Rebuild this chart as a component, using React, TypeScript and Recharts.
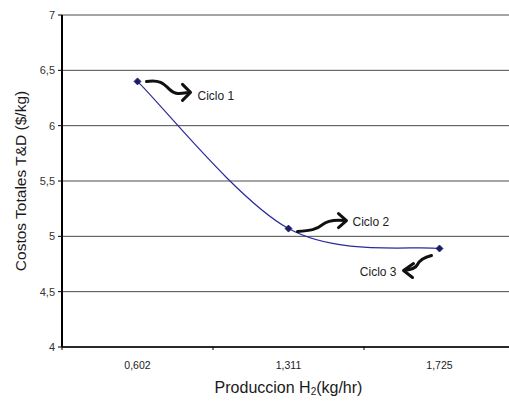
import React from "react";
import { LineChart, Line, XAxis, YAxis, CartesianGrid, LabelList, Label } from "recharts";

const produccion = ["0,602", "1,311", "1,725"];
const costos = [6.4, 5.07, 4.89];
const ciclos = ["Ciclo 1", "Ciclo 2", "Ciclo 3"];
const yTicks = [4, 4.5, 5, 5.5, 6, 6.5, 7];

const data = produccion.map((p, i) => ({ produccion: p, costo: costos[i], ciclo: ciclos[i] }));

const FONT = "'Liberation Sans', Arial, sans-serif";

// spreadsheet-style smoothed line (bezier, tangents = (next - prev) / 6)
function smoothCurve(context: any) {
  let pts: [number, number][] = [];
  return {
    areaStart() {},
    areaEnd() {},
    lineStart() {
      pts = [];
    },
    point(x: number, y: number) {
      pts.push([+x, +y]);
    },
    lineEnd() {
      if (!pts.length) return;
      context.moveTo(pts[0][0], pts[0][1]);
      for (let i = 0; i < pts.length - 1; i++) {
        const p0 = pts[Math.max(i - 1, 0)];
        const p1 = pts[i];
        const p2 = pts[i + 1];
        const p3 = pts[Math.min(i + 2, pts.length - 1)];
        context.bezierCurveTo(
          p1[0] + (p2[0] - p0[0]) / 6,
          p1[1] + (p2[1] - p0[1]) / 6,
          p2[0] - (p3[0] - p1[0]) / 6,
          p2[1] - (p3[1] - p1[1]) / 6,
          p2[0],
          p2[1]
        );
      }
    },
  };
}

const Diamond = (props: any) => {
  const { cx, cy } = props;
  if (cx == null || cy == null) return null;
  const s = 3.5;
  return (
    <polygon
      points={`${cx},${cy - s} ${cx + s},${cy} ${cx},${cy + s} ${cx - s},${cy}`}
      fill="#1c1c66"
      stroke="#1c1c66"
      strokeWidth={0.8}
    />
  );
};

// curved arrow + text, relative to each point
const Callout = (props: any) => {
  const { x, y, index } = props;
  if (x == null || y == null) return null;
  const arrow = { stroke: "#111", strokeWidth: 3, fill: "none", strokeLinecap: "round" as const, strokeLinejoin: "round" as const };
  const txt = { fontFamily: FONT, fontSize: 12, fill: "#222" };
  if (index === 0) {
    return (
      <g>
        <path d={`M${x + 9},${y} C${x + 22},${y - 2} ${x + 26},${y + 2} ${x + 32},${y + 8} S${x + 44},${y + 12} ${x + 52},${y + 11}`} {...arrow} />
        <path d={`M${x + 45},${y + 3} L${x + 53},${y + 11} L${x + 45},${y + 19}`} {...arrow} />
        <text x={x + 60} y={y + 15} dominantBaseline="central" {...txt}>{ciclos[0]}</text>
      </g>
    );
  }
  if (index === 1) {
    return (
      <g>
        <path d={`M${x + 9},${y + 3} C${x + 22},${y + 2} ${x + 28},${y + 1} ${x + 34},${y - 4} S${x + 48},${y - 9} ${x + 57},${y - 8}`} {...arrow} />
        <path d={`M${x + 50},${y - 15} L${x + 58},${y - 8} L${x + 50},${y - 1}`} {...arrow} />
        <text x={x + 64} y={y - 7} dominantBaseline="central" {...txt}>{ciclos[1]}</text>
      </g>
    );
  }
  return (
    <g>
      <path d={`M${x - 8},${y + 7} C${x - 16},${y + 9} ${x - 20},${y + 12} ${x - 22},${y + 16} S${x - 28},${y + 21} ${x - 35},${y + 22}`} {...arrow} />
      <path d={`M${x - 26},${y + 15} L${x - 36},${y + 22} L${x - 27},${y + 29}`} {...arrow} />
      <text x={x - 43} y={y + 23} textAnchor="end" dominantBaseline="central" {...txt}>{ciclos[2]}</text>
    </g>
  );
};

const XTick = (props: any) => {
  const { x, y, payload } = props;
  const half = payload && payload.offset ? payload.offset : 0;
  return (
    <g>
      {half ? <line x1={x - half} y1={y - 8} x2={x - half} y2={y - 5} stroke="#000" strokeWidth={1} /> : null}
      <text x={x} y={y + 10} textAnchor="middle" dominantBaseline="central" fontFamily={FONT} fontSize={10.5} fill="#222">
        {payload.value}
      </text>
    </g>
  );
};

const YTitle = (props: any) => {
  const vb = props.viewBox || { x: 0, y: 0, width: 0, height: 0 };
  const cx = vb.x + 20;
  const cy = vb.y + vb.height / 2;
  return (
    <text x={cx} y={cy} transform={`rotate(-90 ${cx} ${cy})`} textAnchor="middle" dominantBaseline="central" fontFamily={FONT} fontSize={15.5} fill="#1a1a1a">
      Costos Totales  T&amp;D ($/kg)
    </text>
  );
};

const XTitle = (props: any) => {
  const vb = props.viewBox || { x: 0, y: 0, width: 0, height: 0 };
  const cx = vb.x + vb.width / 2;
  const cy = vb.y + 40;
  return (
    <text x={cx} y={cy} textAnchor="middle" dominantBaseline="central" fontFamily={FONT} fontSize={16} fill="#1a1a1a">
      Produccion H<tspan fontSize={10} dy={4}>2</tspan><tspan dy={-4}>(kg/hr)</tspan>
    </text>
  );
};

export default function App() {
  return (
    <div style={{ position: "absolute", left: 0, top: 0, width: 509, height: 403, overflow: "hidden", background: "#fff" }}>
      <LineChart width={520} height={403} data={data} margin={{ top: 15, right: 5, bottom: 0, left: 0 }}>
        <CartesianGrid vertical={false} stroke="#4a4a4a" strokeWidth={1} />
        <XAxis
          dataKey="produccion"
          type="category"
          scale="band"
          height={56}
          axisLine={{ stroke: "#000", strokeWidth: 1.5 }}
          tickLine={false}
          tick={<XTick />}
          interval={0}
        >
          <Label content={<XTitle />} />
        </XAxis>
        <YAxis
          domain={[4, 7]}
          ticks={yTicks}
          width={62}
          axisLine={{ stroke: "#000", strokeWidth: 2 }}
          tickLine={{ stroke: "#000" }}
          tickSize={4}
          tickMargin={3}
          tickFormatter={(v: number) => String(v).replace(".", ",")}
          tick={{ fontFamily: FONT, fontSize: 11, fill: "#333" }}
        >
          <Label content={<YTitle />} />
        </YAxis>
        <Line
          type={smoothCurve as any}
          dataKey="costo"
          stroke="#2a2a9c"
          strokeWidth={1.2}
          dot={<Diamond />}
          activeDot={false}
          isAnimationActive={false}
        >
          <LabelList dataKey="ciclo" content={<Callout />} />
        </Line>
      </LineChart>
    </div>
  );
}
